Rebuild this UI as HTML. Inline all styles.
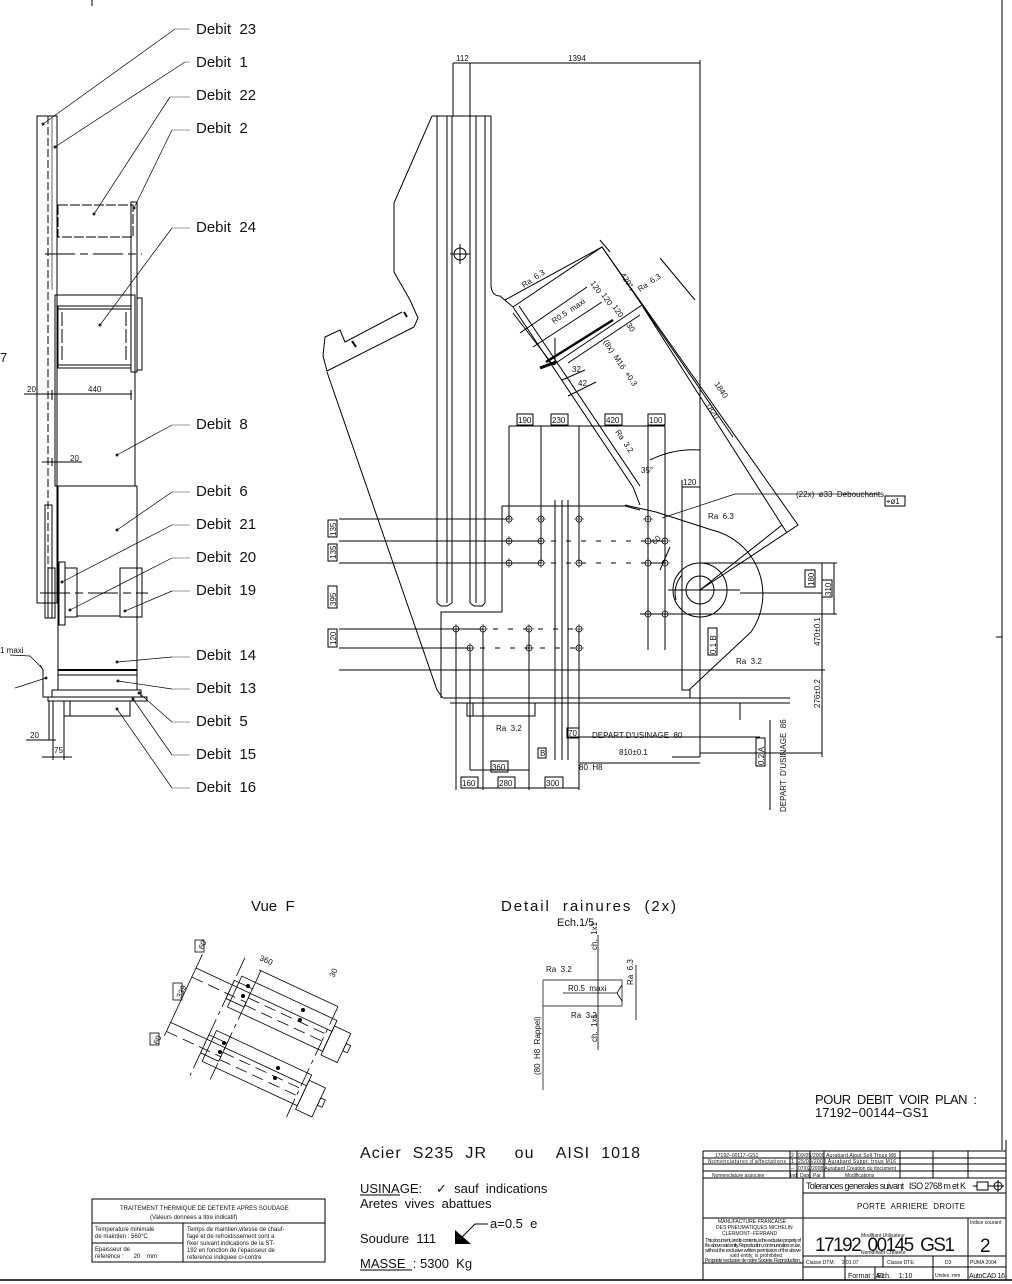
<!DOCTYPE html>
<html><head><meta charset="utf-8"><style>
html,body{margin:0;padding:0;background:#fff;}
svg{display:block;}
text{font-family:"Liberation Sans",sans-serif;fill:#111;white-space:pre;}
.d{font-size:15px;fill:#333;}
.s{font-size:8px;}
</style></head><body>
<svg width="1012" height="1284" viewBox="0 0 1012 1284" xmlns="http://www.w3.org/2000/svg" xml:space="preserve">
<defs>
<g id="h"><circle r="3" fill="none" stroke="#000" stroke-width="0.8"/><path d="M-5 0H5M0-5V5" stroke="#000" stroke-width="0.6"/></g>
</defs>
<g fill="none" stroke="#000" stroke-width="1">
<path d="M92 0V6M1002 0V1150M996 637H1002"/>
<path d="M0 1280H1012" stroke-width="1.5"/>

<!-- LEFT VIEW -->
<rect x="37" y="116" width="20" height="487"/>
<path d="M48 116V603" stroke-dasharray="8,3"/>
<path d="M52 118V290" stroke="#999" stroke-width="1.5"/>
<rect x="58" y="205" width="75" height="32" stroke-dasharray="10,2"/>
<rect x="131" y="202" width="6" height="170"/>
<path d="M45 254H142" stroke-dasharray="30,5,8,5"/>
<rect x="55" y="295" width="80" height="191"/>
<rect x="58" y="306" width="73" height="62"/>
<path d="M58 309H131M58 365H131"/>
<path d="M62 312V362M126 312V362" stroke-dasharray="14,3"/>
<rect x="137" y="298" width="5" height="72"/>
<path d="M24 394H132M52 390V400M131 390V400"/>
<path d="M42 462H82M52 458V466"/>
<rect x="58" y="486" width="79" height="204"/>
<rect x="45" y="505" width="7" height="113"/>
<rect x="48" y="568" width="7" height="50"/>
<rect x="59" y="562" width="6" height="63"/>
<rect x="65" y="568" width="12" height="49"/>
<rect x="120" y="568" width="17" height="49"/>
<path d="M137 568H142V617H137"/>
<path d="M77 616H120"/>
<path d="M40 593H148" stroke-dasharray="30,5,8,5"/>
<path d="M58 670H137" stroke-width="2"/>
<path d="M58 675H137"/>
<path d="M43 670V697H52M43 670L40 665"/>
<rect x="52" y="690" width="89" height="7"/>
<rect x="48" y="697" width="99" height="4"/>
<rect x="64" y="701" width="66" height="15"/>
<path d="M70 701V716M49 701V740M53 701V760M64 716V760"/>
<path d="M26 740H56M42 757H72"/>
<g stroke-width="0.7">
<path d="M175 29L43 124M185 62L55 147M170 97L94 214M172 130L134 208M172 228L100 325M172 425L117 455M172 492L117 530M172 525L62 582M172 558L70 610M172 591L125 611M172 657L117 662M172 689L118 681M172 722L139 693M172 755L133 699M172 788L117 709M10 655L30 656L42 668M15 688L46 678"/>
<path d="M175 29H190M185 62H190M170 97H190M172 130H190M172 228H190M172 425H190M172 492H190M172 525H190M172 558H190M172 591H190M172 657H190M172 689H190M172 722H190M172 755H190M172 788H190" stroke="#777"/>
</g>

<!-- MAIN VIEW -->
<path d="M453 63V116M470 63V116M470 63H700M453 63H470M700 60V757"/>
<path d="M432 116H491"/>
<path d="M437 116V603M447 116V603M452 116V603M470 116V603M476 116V603M485 116V603"/>
<path d="M437 603L441 606H447L452 603M470 603L474 606H482L485 603"/>
<path d="M491 116V286Q492 296 500 296L513 307"/>
<path d="M432 116L394 203V272L410 300L418 318L414 327L327 371L323 356L325 337L340 330L345 342L402 312"/>
<path d="M327 372L437 690L443 698"/>
<path d="M352 341l4 6M404 312l3 5" stroke-width="2"/>
<circle cx="460" cy="254" r="6"/><path d="M450 254H470M460 244V264"/>
<path d="M513 307L602 247L798 525L700 590"/>
<path d="M513 307L633 487L640 505M519 306L640 486"/>
<path d="M520 333L587 287M533 347L602 302M553 365L642 305M568 363L640 315"/>
<path d="M546 362L613 320" stroke-width="2.5"/>
<path d="M513 313L553 365"/>
<path d="M555 365V338"/>
<path d="M643 307L787 533M602 247L733 437"/>
<path d="M505 300L602 247M600 240L610 252M660 258L695 300"/>
<path d="M540 368L556 362" stroke-width="3"/>
<path d="M562 380L585 370M568 396L596 382"/>
<path d="M502 506H625L640 510M502 506V612H441V698"/>
<path d="M339 519H509M339 541H665M339 563H665M339 629H579M339 648H579M339 670H822"/>
<path d="M509 519H650M541 541H650M541 563H650M483 629H580M470 648H580" stroke-dasharray="10,5" stroke="#fff"/>
<path d="M555 500V760M562 500V760M568 500V760"/>
<path d="M509 426V519M541 426V563M579 426V563M648 426V650M665 426V650"/>
<path d="M509 426H665"/>
<path d="M456 629V790M483 629V790M529 629V790M579 629V790M470 648V770"/>
<path d="M461 788H579M470 770H529"/>
<path d="M648 563V650M665 563V650M640 614H700"/>
<path d="M443 698H690M450 703H690M690 698H790M690 703H790"/>
<rect x="467" y="703" width="68" height="13"/>
<path d="M473 703V716M529 703V716"/>
<path d="M682 600V690H690V698"/>
<path d="M625 505L656 512L712 530A66 66 0 0 1 751 632L689 690"/>
<circle cx="700" cy="590" r="27"/><circle cx="700" cy="590" r="14"/>
<path d="M682 575A27 27 0 0 0 676 600"/>
<path d="M668 590H740M700 590L782 525"/>
<path d="M682 487H700M682 480V600"/>
<path d="M660 570L670 547M650 460A100 100 0 0 1 700 450"/>
<path d="M700 563H837M740 593H822M700 614H837M822 563V757M834 563V614M700 670H825M700 753H822"/>
<path d="M770 720V810M740 703V720"/>
<path d="M567 737H760M672 757H700M700 763H580"/>
<path d="M735 494H880" stroke-width="0.7"/>
<path d="M735 494L662 518" stroke-width="0.7"/>
<g stroke-width="1">
<rect x="328" y="520" width="9" height="17"/><rect x="328" y="544" width="9" height="17"/>
<rect x="328" y="586" width="9" height="22"/><rect x="328" y="629" width="9" height="18"/>
<rect x="517" y="414" width="16" height="11"/><rect x="551" y="414" width="17" height="11"/>
<rect x="605" y="414" width="17" height="11"/><rect x="648" y="414" width="17" height="11"/>
<rect x="491" y="761" width="17" height="11"/><rect x="461" y="777" width="17" height="11"/>
<rect x="498" y="777" width="17" height="11"/><rect x="545" y="777" width="18" height="11"/>
<rect x="567" y="728" width="12" height="10"/><rect x="538" y="748" width="8" height="10"/>
<rect x="805" y="570" width="10" height="17"/><rect x="822" y="580" width="10" height="17"/>
<rect x="708" y="628" width="9" height="27"/><rect x="756" y="738" width="9" height="28"/>
<rect x="885" y="496" width="20" height="10"/>
</g>
</g>
<g>
<use href="#h" x="509" y="519"/><use href="#h" x="541" y="519"/><use href="#h" x="579" y="519"/><use href="#h" x="648" y="519"/>
<use href="#h" x="509" y="541"/><use href="#h" x="541" y="541"/><use href="#h" x="648" y="541"/><use href="#h" x="665" y="541"/>
<use href="#h" x="509" y="563"/><use href="#h" x="541" y="563"/><use href="#h" x="579" y="563"/><use href="#h" x="648" y="563"/><use href="#h" x="665" y="563"/>
<use href="#h" x="648" y="614"/><use href="#h" x="665" y="614"/>
<use href="#h" x="456" y="629"/><use href="#h" x="483" y="629"/><use href="#h" x="529" y="629"/><use href="#h" x="579" y="629"/>
<use href="#h" x="470" y="648"/><use href="#h" x="529" y="648"/><use href="#h" x="579" y="648"/>
</g>
<g fill="#222">
<circle cx="43" cy="124" r="1.5"/><circle cx="55" cy="147" r="1.5"/><circle cx="94" cy="214" r="1.5"/><circle cx="134" cy="208" r="1.5"/><circle cx="100" cy="325" r="1.5"/><circle cx="117" cy="455" r="1.5"/><circle cx="117" cy="530" r="1.5"/><circle cx="62" cy="582" r="1.5"/><circle cx="70" cy="610" r="1.5"/><circle cx="125" cy="611" r="1.5"/><circle cx="117" cy="662" r="1.5"/><circle cx="118" cy="681" r="1.5"/><circle cx="139" cy="693" r="1.5"/><circle cx="133" cy="699" r="1.5"/><circle cx="117" cy="709" r="1.5"/><circle cx="46" cy="678" r="1.5"/>
</g>
<g class="d">
<text x="196" y="34">Debit  23</text><text x="196" y="67">Debit  1</text><text x="196" y="100">Debit  22</text><text x="196" y="133">Debit  2</text>
<text x="196" y="232">Debit  24</text><text x="196" y="429">Debit  8</text><text x="196" y="496">Debit  6</text><text x="196" y="529">Debit  21</text>
<text x="196" y="562">Debit  20</text><text x="196" y="595">Debit  19</text><text x="196" y="660">Debit  14</text><text x="196" y="693">Debit  13</text>
<text x="196" y="726">Debit  5</text><text x="196" y="759">Debit  15</text><text x="196" y="792">Debit  16</text>
</g>
<text x="0" y="362" font-size="13">7</text>
<g class="s">
<text x="27" y="392">20</text><text x="88" y="392">440</text><text x="70" y="461">20</text><text x="0" y="653">1 maxi</text>
<text x="30" y="738">20</text><text x="54" y="753">75</text>
<text x="456" y="61">112</text><text x="568" y="61">1394</text>
<text x="518" y="423">190</text><text x="552" y="423">230</text><text x="606" y="423">420</text><text x="649" y="423">100</text>
<text x="683" y="485">120</text>
<text x="492" y="770">360</text><text x="462" y="786">160</text><text x="499" y="786">280</text><text x="546" y="786">300</text>
<text x="568" y="736">70</text><text x="540" y="756">B</text>
<text x="592" y="738">DEPART D'USINAGE  80</text><text x="619" y="755">810±0.1</text><text x="579" y="770">80  H8</text>
<text x="496" y="731">Ra  3.2</text><text x="736" y="664">Ra  3.2</text><text x="708" y="519">Ra  6.3</text>
<text x="796" y="497">(22x)  ø33  Debouchants</text><text x="886" y="504">⌖ø1</text>
<text transform="translate(336,536) rotate(-90)">135</text><text transform="translate(336,559) rotate(-90)">135</text>
<text transform="translate(336,606) rotate(-90)">395</text><text transform="translate(336,645) rotate(-90)">120</text>
<text transform="translate(814,586) rotate(-90)">180</text><text transform="translate(831,596) rotate(-90)">310</text>
<text transform="translate(820,646) rotate(-90)">470±0.1</text><text transform="translate(820,708) rotate(-90)">276±0.2</text>
<text transform="translate(716,654) rotate(-90)">0.1 B</text><text transform="translate(764,765) rotate(-90)">0.2 A</text>
<text transform="translate(786,812) rotate(-90)">DEPART  D'USINAGE  86</text>
<text transform="translate(524,288) rotate(-34)">Ra  6.3</text><text transform="translate(640,292) rotate(-34)">Ra  6.3</text>
<text transform="translate(554,324) rotate(-34)">R0.5  maxi</text>
<text transform="translate(620,275) rotate(56)">420°₀</text>
<text transform="translate(590,283) rotate(56)">120</text><text transform="translate(601,295) rotate(56)">120</text><text transform="translate(612,307) rotate(56)">120</text>
<text transform="translate(626,325) rotate(56)">30</text>
<text transform="translate(603,342) rotate(56)">(8x)  M16  ⌖0.3</text>
<text x="572" y="372">32</text><text x="578" y="386">42</text>
<text transform="translate(615,432) rotate(56)">Ra  3.2</text>
<text transform="translate(714,384) rotate(56)">1840</text><text transform="translate(705,405) rotate(56)">1820</text>
<text x="641" y="473">35°</text><text transform="translate(655,545) rotate(-45)">60</text>
</g>

<!-- VUE F -->
<text x="251" y="911" font-size="15">Vue  F</text>
<g fill="none" stroke="#000" stroke-width="0.8" transform="translate(196,968) rotate(25)">
<path d="M0 -15V75M0 0H150M0 60H150"/>
<rect x="45" y="-12" width="105" height="34"/><rect x="40" y="-5" width="20" height="20"/>
<rect x="150" y="-6" width="18" height="32"/><rect x="168" y="5" width="5" height="8"/>
<rect x="45" y="48" width="105" height="34"/><rect x="40" y="55" width="20" height="20"/>
<rect x="150" y="54" width="18" height="32"/><rect x="168" y="65" width="5" height="8"/>
<path d="M0 10H60M0 70H60M60 5H150M60 65H150M60 13H150M60 73H150" stroke-dasharray="12,6"/>
<path d="M40 -30V100M60 -25V95M145 -25V100" stroke-dasharray="20,5,4,5"/>
<path d="M58 -25H145"/>
</g>
<g fill="#000"><circle cx="248" cy="986" r="2"/><circle cx="243" cy="996" r="2"/><circle cx="303" cy="1010" r="2"/><circle cx="300" cy="1020" r="2"/><circle cx="224" cy="1043" r="2"/><circle cx="220" cy="1052" r="2"/><circle cx="278" cy="1068" r="2"/><circle cx="275" cy="1078" r="2"/></g>
<g class="s">
<rect x="195" y="940" width="9" height="12" fill="none" stroke="#000" stroke-width="0.8"/><text transform="translate(203,950) rotate(-65)">60</text>
<rect x="173" y="983" width="9" height="17" fill="none" stroke="#000" stroke-width="0.8"/><text transform="translate(181,999) rotate(-65)">339</text>
<rect x="150" y="1033" width="9" height="12" fill="none" stroke="#000" stroke-width="0.8"/><text transform="translate(158,1045) rotate(-65)">60</text>
<text transform="translate(259,960) rotate(23)">360</text><text transform="translate(334,978) rotate(-65)">30</text>
</g>

<!-- DETAIL RAINURES -->
<text x="501" y="911" font-size="15" textLength="175">Detail  rainures  (2x)</text>
<text x="557" y="926" font-size="11">Ech.1/5</text>
<g fill="none" stroke="#000" stroke-width="0.8">
<path d="M543 980H622V1006H543M543 980V1090" stroke="#666" stroke-width="1.2"/>
<path d="M598 935V1050M636 965V1020M563 993H617L622 985M617 993L622 1001"/>
</g>
<g class="s">
<text x="546" y="972">Ra  3.2</text><text x="568" y="991">R0.5  maxi</text><text x="571" y="1018">Ra  3.2</text>
<text transform="translate(597,950) rotate(-90)">ch.  1x1</text><text transform="translate(597,1042) rotate(-90)">ch.  1x1</text>
<text transform="translate(633,985) rotate(-90)">Ra  6.3</text>
<text transform="translate(540,1075) rotate(-90)">(80  H8  Rappel)</text>
</g>

<!-- NOTES -->
<text x="815" y="1104" font-size="13" textLength="162">POUR  DEBIT  VOIR  PLAN  :</text>
<text x="815" y="1117" font-size="13">17192−00144−GS1</text>
<text x="360" y="1158" font-size="16" textLength="280">Acier  S235  JR     ou    AISI  1018</text>
<text x="360" y="1193" font-size="13">USINAGE:</text><path d="M360 1195H400" stroke="#000"/>
<text x="436" y="1193" font-size="13">✓  sauf  indications</text>
<text x="360" y="1208" font-size="13">Aretes  vives  abattues</text>
<text x="360" y="1243" font-size="13">Soudure  111</text>
<path d="M455 1230V1244H471Z" fill="#000"/><path d="M455 1244L475 1224H488" stroke="#000" fill="none"/>
<text x="490" y="1228" font-size="13">a=0.5  e</text>
<text x="360" y="1268" font-size="13">MASSE  :</text><path d="M360 1270H412" stroke="#000"/>
<text x="420" y="1268" font-size="13">5300  Kg</text>

<g fill="none" stroke="#000" stroke-width="1">
<rect x="92" y="1199" width="233" height="63"/>
<path d="M92 1223H325M183 1223V1262M92 1243H183"/>
</g>
<g font-size="6">
<text x="120" y="1210">TRAITEMENT THERMIQUE DE DETENTE APRES SOUDAGE</text>
<text x="150" y="1219">(Valeurs donnees a titre indicatif)</text>
<text x="95" y="1231">Temperature minimale</text><text x="95" y="1238">de maintien : 560°C</text>
<text x="95" y="1251">Epaisseur de</text><text x="95" y="1258">reference :      20    mm</text>
<text x="187" y="1231">Temps de maintien,vitesse de chauf-</text><text x="187" y="1238">fage et de refroidissement sont a</text>
<text x="187" y="1245">fixer suivant indications de la ST-</text><text x="187" y="1252">192 en fonction de l'epaisseur de</text>
<text x="187" y="1259">reference indiquee ci-contre</text>
</g>

<!-- TITLE BLOCK -->
<g fill="none" stroke="#000" stroke-width="1">
<path d="M703 1151H1006M703 1151V1280M1006 1140V1280"/>
<path d="M703 1158H1006M703 1164H1006M703 1171H1006M703 1178H1006"/>
<path d="M790 1151V1178M797 1151V1178M810 1151V1178M824 1151V1178M900 1151V1178M933 1151V1178M968 1151V1178"/>
<path d="M803 1178V1280M703 1218H1006M703 1263H803M803 1193H1006M968 1218V1256M803 1256H1006M803 1267H1006"/>
<path d="M845 1256V1280M875 1267V1280M933 1256V1280M968 1256V1280M883 1256V1267M845 1267V1280"/>
<path d="M977 1182H988V1190H977ZM973 1186H977M988 1186H993"/>
<circle cx="998" cy="1186" r="4"/><path d="M992 1186H1004M998 1180V1192"/>
</g>
<g font-size="5">
<text x="715" y="1157">17192−00117−GS1</text><text x="708" y="1163" textLength="78">Nomenclatures d'affectations</text>
<text x="712" y="1177">Nomenclature associee</text><text x="791" y="1157">2</text><text x="791" y="1163">1</text><text x="791" y="1170">−</text>
<text x="798" y="1157" textLength="98">09/05/2008 Aurabard Ajout Soll Trous M8</text><text x="798" y="1163" textLength="98">25/04/2008 Aurabard Suppr. trous M16</text>
<text x="798" y="1170" textLength="98">07/02/2008 Aurabard Creation du document</text>
<text x="790" y="1177">Ind</text><text x="800" y="1177">Date</text><text x="813" y="1177">Par</text><text x="845" y="1177">Modifications</text>
<text x="718" y="1223">MANUFACTURE FRANCAISE</text><text x="716" y="1229">DES PNEUMATIQUES MICHELIN</text><text x="722" y="1235">CLERMONT−FERRAND</text>
<text x="705" y="1242" textLength="96">This document, and its contents, is the exclusive property of</text>
<text x="705" y="1247" textLength="96">the above said entity. Reproduction, communication or use,</text>
<text x="705" y="1252" textLength="96">without the exclusive written permission of the above</text>
<text x="730" y="1257">said entity, is prohibited.</text>
<text x="705" y="1262" textLength="96">Propriete exclusive de notre Societe. Reproduction,</text>
<text x="861" y="1237">Modifiant Utilisateur</text><text x="861" y="1254">Nomdifiant Createur</text>
<text x="970" y="1224">Indice courant</text>
<text x="806" y="1264">Classe DTM:     2.01.07</text><text x="887" y="1264">Classe DTE:</text><text x="945" y="1264">D3</text><text x="970" y="1264">PUMA 2004</text>
<text x="935" y="1277">Unites :mm</text>
</g>
<text x="806" y="1189" font-size="9" textLength="160">Tolerances generales suivant   ISO 2768 m et K</text>
<text x="857" y="1209" font-size="8" textLength="108">PORTE  ARRIERE  DROITE</text>
<text x="815" y="1251" font-size="19" fill="#333" textLength="140">17192  00145  GS1</text>
<text x="980" y="1252" font-size="19" fill="#333">2</text>
<text x="848" y="1278" font-size="7">Format : A0</text><text x="877" y="1278" font-size="7">Ech.    1:10</text>
<text x="969" y="1278" font-size="7" textLength="36">AutoCAD 16</text>
</svg>
</body></html>
